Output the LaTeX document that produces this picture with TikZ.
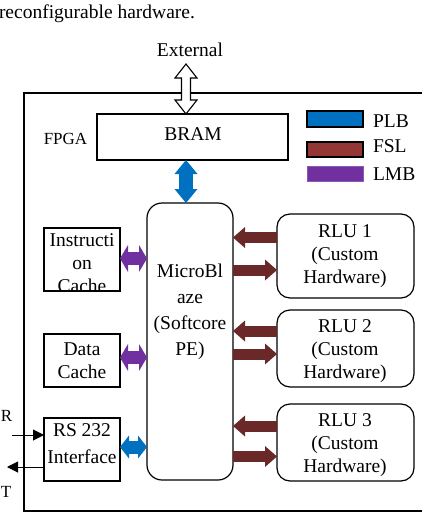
\documentclass[tikz,border=0pt]{standalone}
\usepackage{fontspec}
\setmainfont{Liberation Serif}
\usetikzlibrary{arrows.meta,calc}
\definecolor{plbblue}{HTML}{0070C0}
\definecolor{fslred}{HTML}{943634}
\definecolor{fsldark}{HTML}{6B2828}
\definecolor{lmbpurple}{HTML}{7030A0}
\begin{document}
\begin{tikzpicture}[x=1pt,y=-1pt,
  every node/.style={font=\fontsize{19.5}{23}\selectfont, inner sep=0pt, outer sep=0pt},
  box/.style={draw, line width=1.2pt},
  rbox/.style={draw, line width=1.2pt, rounded corners=13pt},
  small/.style={font=\fontsize{17}{20}\selectfont},
  fsl/.style={fsldark, line width=11pt, -{Triangle[width=21pt,length=12pt,line width=0pt]}},
  lmb/.style={lmbpurple, line width=13pt, {Triangle[width=27pt,length=8pt,line width=0pt]}-{Triangle[width=27pt,length=8pt,line width=0pt]}},
  plb/.style={plbblue, line width=13pt, {Triangle[width=23pt,length=9pt,line width=0pt]}-{Triangle[width=23pt,length=9pt,line width=0pt]}},
  sig/.style={line width=1pt, -{Triangle[width=11pt,length=11pt]}}]
\useasboundingbox (0,0) rectangle (422,522);

% caption fragment
\node[anchor=base west] (cap) at (-1,19) {reconfigurable hardware.};

% FPGA frame
\draw[line width=1.3pt] (440,93) -- (24,93) -- (24,511) -- (440,511);
\node[small] (fpga) at (65.5,139) {FPGA};

% External
\node (ext) at (190,50) {External};

% BRAM
\node[box, minimum width=191pt, minimum height=46pt] (bram) at (192.5,137) {};
\node (bramt) at (193,134.5) {BRAM};

% External hollow double arrow
\coordinate (extA) at (186,64);
\coordinate (extB) at (bram.north -| extA);
\draw[line width=1.1pt, fill=white]
  (extA) -- ($(extA)+(11,14)$) -- ($(extA)+(4.5,14)$) -- ($(extB)+(4.5,-14)$)
  -- ($(extB)+(11,-14)$) -- (extB) -- ($(extB)+(-11,-14)$) -- ($(extB)+(-4.5,-14)$)
  -- ($(extA)+(-4.5,14)$) -- ($(extA)+(-11,14)$) -- cycle;

% MicroBlaze
\node[rbox, rounded corners=15pt, minimum width=86pt, minimum height=277pt] (mb) at (190,341.5) {};
\node[align=center, font=\fontsize{19.5}{25.8}\selectfont] (mbt) at (190,312) {MicroBl\\aze\\(Softcore\\PE)};

% BRAM <-> MicroBlaze
\draw[plbblue, line width=14pt, {Triangle[width=23pt,length=14pt,line width=0pt]}-{Triangle[width=23pt,length=14pt,line width=0pt]}]
  (bram.south -| extA) -- (mb.north -| extA);

% Instruction cache (text clipped by its box)
\node[box, minimum width=76pt, minimum height=63pt] (ic) at (82,259.5) {};
\begin{scope}
  \clip (ic.south west) rectangle (ic.north east);
  \node[align=center] (ict) at (82,263.5) {Instructi\\on\\Cache};
\end{scope}
\draw[line width=1.2pt] (ic.south west) rectangle (ic.north east);

% Data cache
\node[box, minimum width=76pt, minimum height=53pt] (dc) at (82,360.5) {};
\node[align=center] (dct) at (82,361) {Data\\Cache};

% RS 232
\node[box, minimum width=76pt, minimum height=63pt] (rs) at (82,449.5) {};
\node[align=center] (rst) at (82,444) {RS 232\\[4pt]Interface};

% LMB / PLB arrows on the left
\draw[lmb] (ic.east |- 0,258.5) -- (mb.west |- 0,258.5);
\draw[lmb] (dc.east |- 0,357.5) -- (mb.west |- 0,357.5);
\draw[plb] (rs.east |- 0,447) -- (mb.west |- 0,447);

% R / T signals
\node[small] (rl) at (6.5,416) {R};
\node[small] (tl) at (6,492) {T};
\coordinate (rin) at (12,435);
\coordinate (tout) at (7,467);
\draw[sig] (rin) -- (rs.west |- rin);
\draw[sig] (rs.west |- tout) -- (tout);

% RLUs
\node[rbox, minimum width=137pt, minimum height=84pt] (rlu1) at (345.5,256) {};
\node[rbox, minimum width=137pt, minimum height=77pt] (rlu2) at (345.5,348.5) {};
\node[rbox, minimum width=137pt, minimum height=77pt] (rlu3) at (345.5,442.5) {};
\node[align=center] (rlu1t) at (345,256.3) {RLU 1\\(Custom\\Hardware)};
\node[align=center] (rlu2t) at (345,351.3) {RLU 2\\(Custom\\Hardware)};
\node[align=center] (rlu3t) at (345,445.3) {RLU 3\\(Custom\\Hardware)};

% FSL arrows
\draw[fsl] (rlu1.west |- 0,237.5) -- (mb.east |- 0,237.5);
\draw[fsl] (mb.east |- 0,270) -- (rlu1.west |- 0,270);
\draw[fsl] (rlu2.west |- 0,331) -- (mb.east |- 0,331);
\draw[fsl] (mb.east |- 0,354) -- (rlu2.west |- 0,354);
\draw[fsl] (rlu3.west |- 0,426) -- (mb.east |- 0,426);
\draw[fsl] (mb.east |- 0,456.5) -- (rlu3.west |- 0,456.5);

% Legend
\node[draw, line width=1.2pt, fill=plbblue, minimum width=56pt, minimum height=16pt, anchor=north west] (kplb) at (307,111) {};
\node[draw, line width=1.2pt, fill=fslred, minimum width=56pt, minimum height=15pt, anchor=north west] (kfsl) at (307,142) {};
\node[draw=lmbpurple!80!white, line width=0.6pt, fill=lmbpurple, minimum width=56pt, minimum height=15pt, anchor=north west] (klmb) at (307,166) {};
\node[anchor=base west] (lplb) at (373,127) {PLB};
\node[anchor=base west] (lfsl) at (373,152) {FSL};
\node[anchor=base west] (llmb) at (373,180) {LMB};
\end{tikzpicture}
\end{document}
